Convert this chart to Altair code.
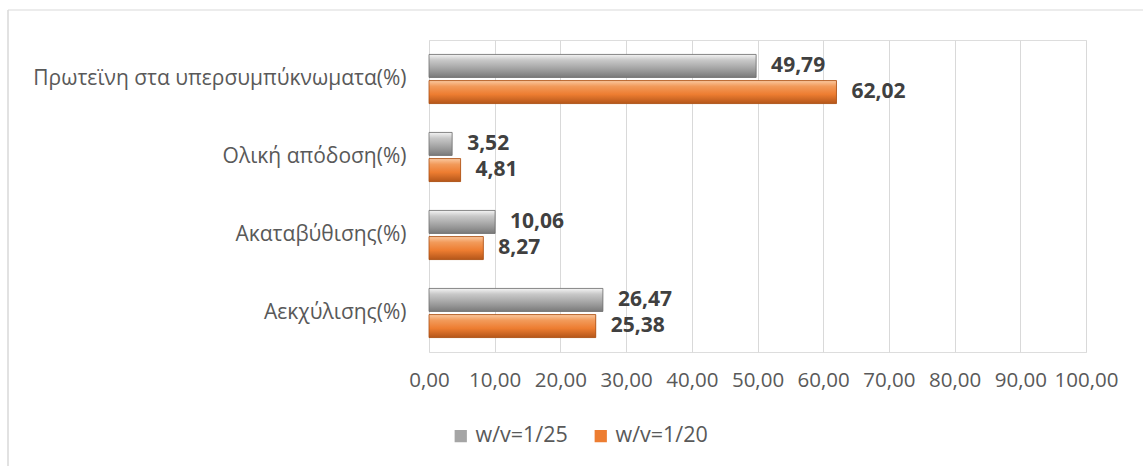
import altair as alt
import pandas as pd

categories = ["Πρωτεϊνη στα υπερσυμπύκνωματα(%)", "Ολική απόδοση(%)", "Ακαταβύθισης(%)", "Αεκχύλισης(%)"]
series = ["w/v=1/25", "w/v=1/20"]
vals_25 = [49.79, 3.52, 10.06, 26.47]
vals_20 = [62.02, 4.81, 8.27, 25.38]
x_ticks = [0, 10, 20, 30, 40, 50, 60, 70, 80, 90, 100]
solid_colors = ["#a5a5a5", "#ed7d31"]

rows = []
for c, a, b in zip(categories, vals_25, vals_20):
    rows.append({"cat": c, "series": series[0], "value": a})
    rows.append({"cat": c, "series": series[1], "value": b})
df = pd.DataFrame(rows)
df["label"] = df["value"].map(lambda v: f"{v:.2f}".replace(".", ","))

FONT = "Open Sans"

y_enc = alt.Y(
    "cat:N",
    sort=categories,
    scale=alt.Scale(domain=categories, paddingInner=0.37, paddingOuter=0.185),
    axis=alt.Axis(title=None, labelFontSize=21, labelColor="#595959", labelPadding=23,
                  ticks=False, domain=False, labelFont=FONT, labelLimit=500),
)
yoff_enc = alt.YOffset("series:N", sort=series,
                       scale=alt.Scale(domain=series, paddingInner=0.12))
x_enc = alt.X(
    "value:Q",
    scale=alt.Scale(domain=[0, 100], nice=False),
    axis=alt.Axis(values=x_ticks, title=None, grid=True, gridColor="#d9d9d9", gridWidth=1,
                  domain=False, ticks=False, labelPadding=18, labelFontSize=20.5,
                  labelColor="#595959", labelFont=FONT, labelOverlap=False, labelFlush=False,
                  labelExpr="replace(format(datum.value, '.2f'), '.', ',')"),
)

base = alt.Chart(df)

legend_bars = base.mark_bar().encode(
    x=x_enc, y=y_enc, yOffset=yoff_enc,
    color=alt.Color("series:N", sort=series,
                    scale=alt.Scale(domain=series, range=solid_colors),
                    legend=alt.Legend(title=None, orient="none", direction="horizontal",
                                      legendX=21, legendY=385, symbolType="square",
                                      symbolSize=150, labelFontSize=21.5, labelColor="#595959",
                                      labelFont=FONT, columnPadding=22, labelOffset=4,
                                      symbolStrokeWidth=0)),
)

gray_grad = alt.Gradient(
    gradient="linear", x1=0, x2=0, y1=0, y2=1,
    stops=[alt.GradientStop(color="#f4f4f4", offset=0),
           alt.GradientStop(color="#c8c8c8", offset=0.25),
           alt.GradientStop(color="#a5a5a5", offset=0.6),
           alt.GradientStop(color="#7a7a7a", offset=1)],
)
orange_grad = alt.Gradient(
    gradient="linear", x1=0, x2=0, y1=0, y2=1,
    stops=[alt.GradientStop(color="#fbc9a0", offset=0),
           alt.GradientStop(color="#f29a5a", offset=0.25),
           alt.GradientStop(color="#ed7d31", offset=0.6),
           alt.GradientStop(color="#b4561a", offset=1)],
)

gray_bars = base.mark_bar(color=gray_grad, stroke="#6e6e6e", strokeWidth=0.8).encode(
    x=x_enc, y=y_enc, yOffset=yoff_enc
).transform_filter(alt.datum.series == series[0])
orange_bars = base.mark_bar(color=orange_grad, stroke="#a84f15", strokeWidth=0.8).encode(
    x=x_enc, y=y_enc, yOffset=yoff_enc
).transform_filter(alt.datum.series == series[1])

labels = base.mark_text(align="left", baseline="middle", dx=15, fontSize=21,
                        fontWeight="bold", color="#404040", font=FONT).encode(
    x=x_enc, y=y_enc, yOffset=yoff_enc, text="label:N"
)

frame_data = alt.Data(values=[{"k": 1}])
frame_left = alt.Chart(frame_data).mark_rule(color="#d9d9d9", strokeWidth=1.5).encode(
    x=alt.value(-421), y=alt.value(-30), y2=alt.value(430)
)
frame_top = alt.Chart(frame_data).mark_rule(color="#d9d9d9", strokeWidth=1).encode(
    x=alt.value(-421), x2=alt.value(720), y=alt.value(-30)
)

chart = alt.layer(
    legend_bars, gray_bars, orange_bars, labels, frame_left, frame_top
).properties(
    width=657, height=312,
    autosize=alt.AutoSizeParams(type="none"),
    padding={"left": 429, "top": 40, "right": 57, "bottom": 114},
).configure_view(stroke=None).configure(font=FONT, background="white")

chart.save("out.html", embed_options={"renderer": "svg", "actions": False})
